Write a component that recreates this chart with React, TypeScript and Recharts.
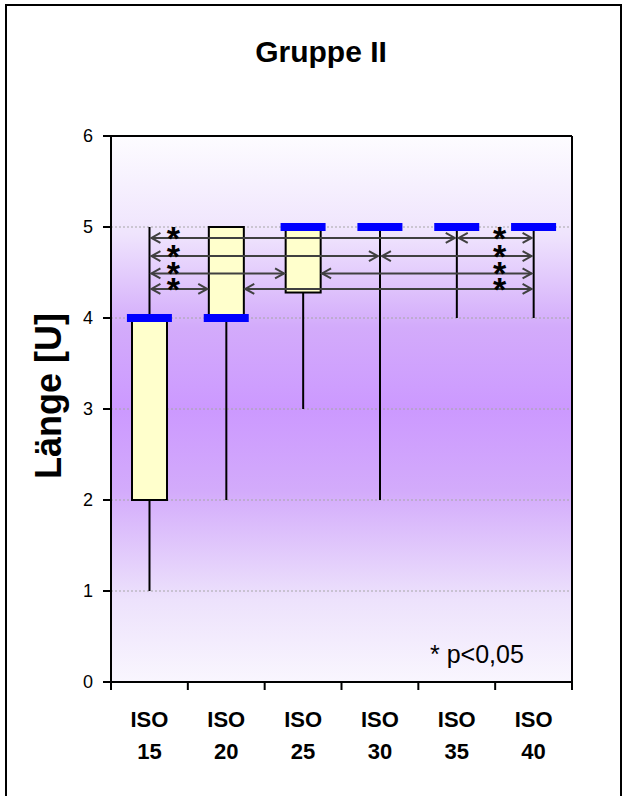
import {
  ComposedChart,
  Bar,
  Scatter,
  XAxis,
  YAxis,
  CartesianGrid,
  ReferenceLine,
} from 'recharts'

const FONT = '"Liberation Sans", Arial, sans-serif'

const categories = ['ISO 15', 'ISO 20', 'ISO 25', 'ISO 30', 'ISO 35', 'ISO 40']
const minValues = [1, 2, 3, 2, 4, 4]
const q1Values = [2, 4, 4.28, 5, 5, 5]
const medianValues = [4, 4, 5, 5, 5, 5]
const q3Values = [4, 5, 5, 5, 5, 5]
const maxValues = [5, 5, 5, 5, 5, 5]
const yTicks = [0, 1, 2, 3, 4, 5, 6]

// significant pairs (p<0,05): each level links ISO 15 -> partner and partner -> ISO 40
const arrowLevels = [4.88, 4.68, 4.49, 4.32]
const arrowPartners = ['ISO 35', 'ISO 30', 'ISO 25', 'ISO 20']

const rows = categories.map((name, i) => ({
  name,
  base: minValues[i],
  lowWhisker: q1Values[i] - minValues[i],
  box: q3Values[i] - q1Values[i],
  highWhisker: maxValues[i] - q3Values[i],
  median: medianValues[i],
}))

const inBox = (name: string, level: number) => {
  const i = categories.indexOf(name)
  return q3Values[i] > q1Values[i] && level >= q1Values[i] && level <= q3Values[i]
}

const Whisker = (p: any) => {
  const { x, y, width, height } = p
  if (!height) return <g />
  const cx = x + width / 2
  return <line x1={cx} x2={cx} y1={y} y2={y + height} stroke="#000" strokeWidth={2} />
}

const BoxShape = (p: any) => {
  const { x, y, width, height } = p
  if (!height) return <g />
  return <rect x={x} y={y} width={width} height={height} fill="#ffffcc" stroke="#000" strokeWidth={2} />
}

const MedianMark = (p: any) => {
  const { cx, cy } = p
  return <rect x={cx - 22.5} y={cy - 4} width={45} height={8} fill="#0000ff" />
}

const arrowShape = (from: string, to: string, level: number, star: 'left' | 'right') => (p: any) => {
  const { x1, x2, y1 } = p
  if (x1 == null) return <g />
  const y = y1
  const a = x1 + (inBox(from, level) ? 19 : 2)
  const b = x2 - (inBox(to, level) ? 19 : 2)
  const sx = star === 'left' ? x1 + 24 : x2 - 34
  return (
    <g>
      <line x1={a} x2={b} y1={y} y2={y} stroke="#404040" strokeWidth={2} />
      <polyline points={`${a + 9},${y - 5} ${a},${y} ${a + 9},${y + 5}`} fill="none" stroke="#404040" strokeWidth={2} />
      <polyline points={`${b - 9},${y - 5} ${b},${y} ${b - 9},${y + 5}`} fill="none" stroke="#404040" strokeWidth={2} />
      <text x={sx} y={y + 12} textAnchor="middle" fontSize={34} fontWeight="bold" fontFamily={FONT} fill="#000">
        *
      </text>
    </g>
  )
}

const XTick = (p: any) => {
  const { x, y, payload, index, visibleTicksCount } = p
  const half = payload.offset || 38.4
  const [top, bottom] = String(payload.value).split(' ')
  return (
    <g>
      <line x1={x - half} x2={x - half} y1={y} y2={y + 8} stroke="#000" strokeWidth={2} />
      {index === visibleTicksCount - 1 && (
        <line x1={x + half} x2={x + half} y1={y} y2={y + 8} stroke="#000" strokeWidth={2} />
      )}
      <text x={x} y={y + 45} textAnchor="middle" fontSize={22} fontWeight="bold" fontFamily={FONT} fill="#000">
        {top}
      </text>
      <text x={x} y={y + 77} textAnchor="middle" fontSize={22} fontWeight="bold" fontFamily={FONT} fill="#000">
        {bottom}
      </text>
    </g>
  )
}

const YLabel = (p: any) => {
  const { viewBox } = p
  const x = viewBox.x + 10
  const y = viewBox.y + viewBox.height / 2 - 13
  return (
    <text x={x} y={y} transform={`rotate(-90 ${x} ${y})`} textAnchor="middle" fontSize={36} fontWeight="bold" fontFamily={FONT} fill="#000">
      Länge [U]
    </text>
  )
}

export default function App() {
  return (
    <div style={{ position: 'absolute', left: 0, top: 0, width: 625, height: 796, background: '#fff', overflow: 'hidden' }}>
      <ComposedChart width={625} height={796} data={rows} margin={{ top: 136, right: 53, bottom: 54, left: 51 }}>
        <defs>
          <linearGradient id="plotBg" x1="0" y1="0" x2="0" y2="1">
            <stop offset="0%" stopColor="#fdfcff" />
            <stop offset="18%" stopColor="#efe4fd" />
            <stop offset="35%" stopColor="#d3abfb" />
            <stop offset="50%" stopColor="#cc99ff" />
            <stop offset="65%" stopColor="#d3abfb" />
            <stop offset="85%" stopColor="#ede2fc" />
            <stop offset="100%" stopColor="#f9f6fe" />
          </linearGradient>
        </defs>
        <CartesianGrid vertical={false} stroke="#a6a6a6" strokeDasharray="2 2" fill="url(#plotBg)" fillOpacity={1} />
        <XAxis
          dataKey="name"
          height={60}
          tickSize={0}
          tickMargin={0}
          tickLine={false}
          axisLine={{ stroke: '#000', strokeWidth: 2 }}
          tick={<XTick />}
          interval={0}
        />
        <YAxis
          width={60}
          domain={[0, 6]}
          ticks={yTicks}
          tickSize={8}
          tickMargin={10}
          tickLine={{ stroke: '#000', strokeWidth: 2 }}
          axisLine={{ stroke: '#000', strokeWidth: 2 }}
          tick={{ fontSize: 18, fill: '#000', fontFamily: FONT }}
          label={{ value: 'Länge [U]', content: <YLabel /> }}
        />
        <ReferenceLine y={6} stroke="#000" strokeWidth={2} />
        <ReferenceLine x="ISO 40" position="end" stroke="#000" strokeWidth={2} />
        <Bar dataKey="base" stackId="bp" fill="transparent" barSize={35} isAnimationActive={false} />
        <Bar dataKey="lowWhisker" stackId="bp" shape={<Whisker />} barSize={35} isAnimationActive={false} />
        <Bar dataKey="box" stackId="bp" shape={<BoxShape />} barSize={35} isAnimationActive={false} />
        <Bar dataKey="highWhisker" stackId="bp" shape={<Whisker />} barSize={35} isAnimationActive={false} />
        {arrowLevels.map((level, i) => (
          <ReferenceLine
            key={`l${i}`}
            segment={[{ x: 'ISO 15', y: level }, { x: arrowPartners[i], y: level }]}
            shape={arrowShape('ISO 15', arrowPartners[i], level, 'left')}
          />
        ))}
        {arrowLevels.map((level, i) => (
          <ReferenceLine
            key={`r${i}`}
            segment={[{ x: arrowPartners[i], y: level }, { x: 'ISO 40', y: level }]}
            shape={arrowShape(arrowPartners[i], 'ISO 40', level, 'right')}
          />
        ))}
        <Scatter dataKey="median" shape={<MedianMark />} isAnimationActive={false} />
      </ComposedChart>
      <svg width={625} height={796} style={{ position: 'absolute', left: 0, top: 0, pointerEvents: 'none' }}>
        <rect x={6} y={5} width={615} height={800} fill="none" stroke="#000" strokeWidth={2} />
        <text x={321} y={62} textAnchor="middle" fontSize={30} fontWeight="bold" fontFamily={FONT} fill="#000">
          Gruppe II
        </text>
        <text x={430} y={663} fontSize={25} fontFamily={FONT} fill="#000">
          * p&lt;0,05
        </text>
      </svg>
    </div>
  )
}
